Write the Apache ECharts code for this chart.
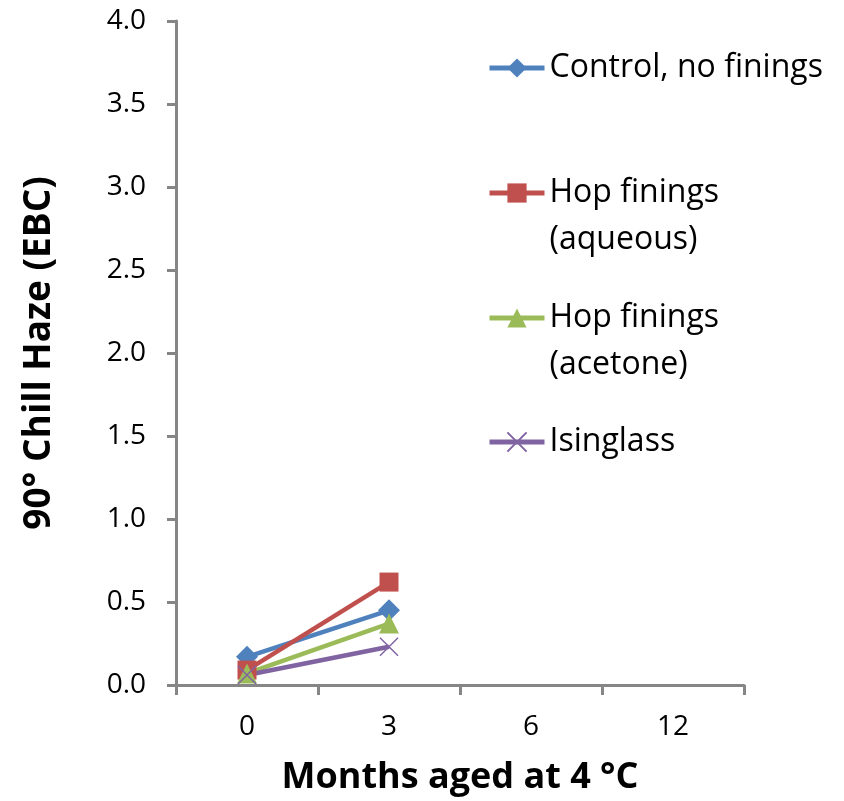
<!DOCTYPE html>
<html>
<head>
<meta charset="utf-8">
<script src="https://cdn.jsdelivr.net/npm/echarts@6/dist/echarts.min.js"></script>
<style>
  html, body { margin: 0; padding: 0; background: #ffffff; }
  #chart { width: 844px; height: 801px; }
</style>
</head>
<body>
<div id="chart"></div>
<script>
// Months aged (category axis)
const months = ['0', '3', '6', '12'];

// 90° chill haze (EBC) per treatment
const controlHaze = [0.17, 0.45];
const hopAqueousHaze = [0.09, 0.62];
const hopAcetoneHaze = [0.07, 0.37];
const isinglassHaze = [0.06, 0.23];

const seriesNames = [
  'Control, no finings',
  'Hop finings\n(aqueous)',
  'Hop finings\n(acetone)',
  'Isinglass'
];

const FONT = 'Open Sans';
const AXIS_GREY = '#868686';
const LINE_H = 47;

const crossPath = 'path://M0,0L10,10M10,0L0,10';

function lineSeries(name, data, color, symbol, size, extra) {
  return Object.assign({
    name: name,
    type: 'line',
    data: data,
    symbol: symbol,
    symbolSize: size,
    lineStyle: { color: color, width: 4.5 },
    itemStyle: { color: color },
    emphasis: { disabled: true },
    animation: false,
    z: 2
  }, extra || {});
}

// One legend block per entry; a leading blank line keeps the icon level with the first text line
function legendBlock(name, iconY, lines) {
  const oneLine = lines === 1;
  return {
    data: [name],
    orient: 'vertical',
    left: 487,
    top: oneLine ? iconY - LINE_H / 2 : iconY - (LINE_H * 3) / 2,
    padding: 0,
    itemWidth: 55,
    itemHeight: 24,
    selectedMode: false,
    formatter: oneLine ? '{name}' : (n => '\n' + n),
    lineStyle: { width: 5 },
    textStyle: {
      fontFamily: FONT,
      fontSize: 32,
      color: '#000000',
      lineHeight: LINE_H
    }
  };
}

const chart = echarts.init(document.getElementById('chart'), null, { renderer: 'canvas' });

chart.setOption({
  backgroundColor: '#ffffff',
  animation: false,
  textStyle: { fontFamily: FONT, color: '#000000' },
  grid: { left: 176, right: 100, top: 21, bottom: 115, containLabel: false },
  legend: [
    legendBlock(seriesNames[0], 68, 1),
    legendBlock(seriesNames[1], 193, 2),
    legendBlock(seriesNames[2], 318, 2),
    legendBlock(seriesNames[3], 442, 1)
  ],
  xAxis: {
    type: 'category',
    data: months,
    boundaryGap: true,
    name: 'Months aged at 4 °C',
    nameLocation: 'middle',
    nameGap: 75,
    nameTextStyle: { fontFamily: FONT, fontSize: 36, fontWeight: 'bold', color: '#000000' },
    axisLine: { show: true, lineStyle: { color: AXIS_GREY, width: 3 } },
    axisTick: { show: true, length: 10, lineStyle: { color: AXIS_GREY, width: 3 } },
    axisLabel: { show: true, margin: 28, fontFamily: FONT, fontSize: 28, color: '#000000' },
    splitLine: { show: false }
  },
  yAxis: {
    type: 'value',
    min: 0,
    max: 4,
    interval: 0.5,
    name: '90° Chill Haze (EBC)',
    nameLocation: 'middle',
    nameGap: 118,
    nameRotate: 90,
    nameTextStyle: { fontFamily: FONT, fontSize: 37, fontWeight: 'bold', color: '#000000' },
    axisLine: { show: true, lineStyle: { color: AXIS_GREY, width: 3 } },
    axisTick: { show: true, length: 9, lineStyle: { color: AXIS_GREY, width: 3 } },
    axisLabel: {
      show: true,
      margin: 30,
      fontFamily: FONT,
      fontSize: 28,
      color: '#000000',
      formatter: v => v.toFixed(1)
    },
    splitLine: { show: false }
  },
  series: [
    lineSeries(seriesNames[0], controlHaze, '#4F81BD', 'diamond', 22),
    lineSeries(seriesNames[1], hopAqueousHaze, '#C0504D', 'rect', 19),
    lineSeries(seriesNames[2], hopAcetoneHaze, '#9BBB59', 'triangle', 20),
    lineSeries(seriesNames[3], isinglassHaze, '#8064A2', crossPath, 18, {
      itemStyle: { color: 'rgba(0,0,0,0)', borderColor: '#8064A2', borderWidth: 1.5 }
    })
  ]
});
</script>
</body>
</html>
